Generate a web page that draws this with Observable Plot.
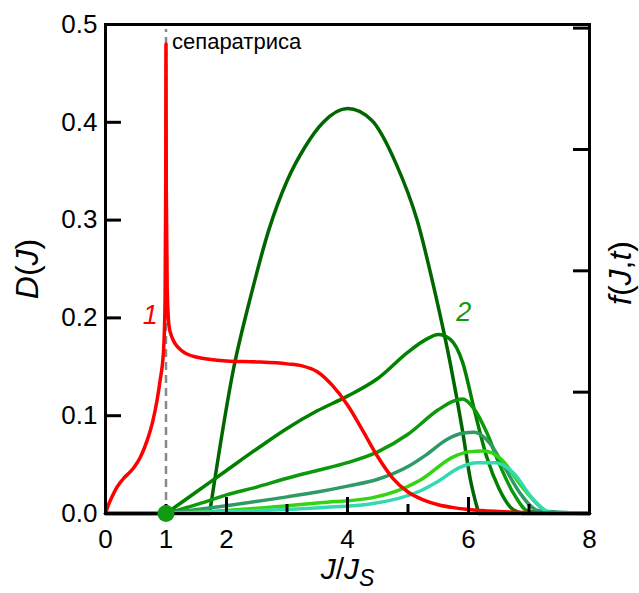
<!DOCTYPE html>
<html><head><meta charset="utf-8">
<script src="https://cdn.jsdelivr.net/npm/d3@7"></script>
<script src="https://cdn.jsdelivr.net/npm/@observablehq/plot@0.6"></script>
<style>body{margin:0;background:#fff} svg{display:block}</style>
</head><body><div id="chart"></div>
<script>
// ---- data ----
const redX = [0,0.05,0.1,0.19,0.3,0.4,0.47,0.58,0.69,0.78,0.85,0.9,0.96,0.985,0.995,1.0,1.005,1.02,1.05,1.1,1.25,1.5,2,2.5,3,3.25,3.5,3.75,4,4.25,4.5,4.75,5,5.25,5.5,5.75,6,6.5,7,8];
const redY = [0,0.009,0.016,0.027,0.036,0.042,0.047,0.058,0.075,0.094,0.115,0.135,0.167,0.22,0.33,0.48,0.33,0.23,0.192,0.18,0.167,0.16,0.156,0.155,0.153,0.151,0.145,0.131,0.111,0.085,0.058,0.036,0.022,0.014,0.009,0.006,0.004,0.002,0.001,0];

const g0X = [0,1.72,2.12,2.4,2.7,3.0,3.3,3.6,4.0,4.4,4.8,5.15,5.45,5.7,5.9,6.03,6.17,8];
const g0Y = [0,0,0.149,0.222,0.29,0.34,0.375,0.4,0.414,0.402,0.358,0.3,0.225,0.153,0.085,0.035,0,0];

const gAX = [0,1,1.5,2,2.5,3,3.5,4,4.5,5,5.3,5.5,5.7,5.9,6.1,6.3,6.5,6.7,6.9,8];
const gAY = [0,0,0.022,0.044,0.066,0.087,0.105,0.12,0.138,0.165,0.178,0.183,0.178,0.155,0.105,0.058,0.026,0.006,0,0];

const gBX = [0,1,1.5,2,2.5,3,3.5,4,4.5,5,5.5,5.75,5.9,6.08,6.3,6.5,6.75,7,8];
const gBY = [0,0,0.009,0.019,0.027,0.036,0.044,0.052,0.063,0.081,0.106,0.115,0.117,0.108,0.083,0.052,0.02,0.002,0];

const gCX = [0,1,2,3,3.5,4,4.5,5,5.3,5.65,5.9,6.1,6.35,6.6,6.85,7.15,8];
const gCY = [0,0,0.008,0.017,0.022,0.028,0.035,0.048,0.06,0.076,0.082,0.083,0.072,0.047,0.021,0.003,0];

const gDX = [0,1,2,3,3.55,4.4,5.2,5.75,6.0,6.25,6.55,6.85,7.2,7.35,8];
const gDY = [0,0,0.003,0.008,0.011,0.016,0.034,0.058,0.063,0.064,0.055,0.03,0.006,0,0];

const gEX = [0,1,2,3,3.55,4.4,5.2,5.5,5.85,6.15,6.45,6.75,7.05,7.35,8];
const gEY = [0,0,0.002,0.004,0.006,0.01,0.023,0.033,0.047,0.052,0.052,0.041,0.016,0.001,0];

const xLabelTicks = [0,1,2,4,6,8];
const xMajorTicks = [0,2,4,6,8];
const xMinorTicks = [1,3,5,7];
const yTicks = [0,0.1,0.2,0.3,0.4,0.5];
const fTicks = [1,2,3,4];      // unlabeled right axis f(J,t)
const fTop = 4.03;             // f value at the top of the frame
const separatrixX = [1];
const separatrixTop = 0.495;
const startPoint = [{x: 1, y: 0}];
const curveLabels = [
  {text: "1", x: 0.74, y: 0.203, color: "#ff0000"},
  {text: "2", x: 5.92, y: 0.206, color: "#119911"}
];
const noteLabel = [{text: "сепаратриса", x: 1, y: 0.482}];
const titles = {y: "D(J)", f: "f(J,t)", x: "J/JS"};

const greens = [
  {name: "g0", xs: g0X, ys: g0Y, color: "#006600"},
  {name: "gA", xs: gAX, ys: gAY, color: "#008200"},
  {name: "gB", xs: gBX, ys: gBY, color: "#0c9a0c"},
  {name: "gC", xs: gCX, ys: gCY, color: "#2e9a66"},
  {name: "gD", xs: gDX, ys: gDY, color: "#33d414"},
  {name: "gE", xs: gEX, ys: gEY, color: "#33d9b0"}
];
const red = {name: "red", xs: redX, ys: redY, color: "#ff0000"};
const rows = s => s.xs.map((x, i) => ({x, y: s.ys[i]}));
// split a curve into flat zero parts and the hump between them
function split(s) {
  const r = rows(s);
  let a = r.findIndex(d => d.y > 0) - 1;
  let b = r.length - 1 - [...r].reverse().findIndex(d => d.y > 0) + 1;
  a = Math.max(a, 0); b = Math.min(b, r.length - 1);
  return {flatL: r.slice(0, a + 1), hump: r.slice(a, b + 1), flatR: r.slice(b)};
}

// ---- layout ----
const W = 639, H = 593, mL = 105, mR = 50, mT = 24, mB = 80;
const plotW = W - mL - mR, plotH = H - mT - mB;
const font = "'Liberation Sans', Arial, sans-serif";

const lineStyle = c => ({x: "x", y: "y", stroke: c, strokeWidth: 3.5});
const marks = [
  Plot.ruleX(separatrixX, {x: d => d, y1: 0, y2: separatrixTop, stroke: "#888", strokeWidth: 2.5, strokeDasharray: "8,5"}),
  ...greens.flatMap(s => {
    const p = split(s);
    return [
      Plot.line(p.flatL, lineStyle(s.color)),
      Plot.line(p.flatR, lineStyle(s.color)),
      Plot.line(p.hump, {...lineStyle(s.color), curve: "monotone-x"})
    ];
  }),
  Plot.line(rows(red), {...lineStyle(red.color), curve: "monotone-x"}),
  Plot.frame({stroke: "black", strokeWidth: 3}),
  Plot.tickY(yTicks, {y: d => d, stroke: "black", strokeWidth: 3, insetRight: plotW - 16}),
  Plot.tickY(fTicks, {y: f => f * 0.5 / fTop, stroke: "black", strokeWidth: 3, insetLeft: plotW - 16}),
  Plot.tickX(xMajorTicks, {x: d => d, stroke: "black", strokeWidth: 3, insetTop: plotH - 16}),
  Plot.tickX(xMinorTicks, {x: d => d, stroke: "black", strokeWidth: 3, insetTop: plotH - 9}),
  Plot.axisY({ticks: yTicks, tickSize: 0, tickPadding: 8, tickFormat: d3.format(".1f"), fontSize: 26, label: null, fill: "black"}),
  Plot.axisX({ticks: xLabelTicks, tickSize: 0, tickPadding: 16, tickFormat: d => String(d), fontSize: 26, label: null, fill: "black"}),
  Plot.dot(startPoint, {x: "x", y: "y", r: 8.5, fill: "#129a12", stroke: "none"}),
  Plot.text(noteLabel, {x: "x", y: "y", text: "text", dx: 6, textAnchor: "start", lineAnchor: "middle", fontSize: 22, fill: "black"}),
  Plot.text(curveLabels, {x: "x", y: "y", text: "text", fill: d => d.color, fontSize: 27, fontStyle: "italic", lineAnchor: "middle"}),
  Plot.text([titles.y], {frameAnchor: "left", dx: -78, rotate: -90, fontSize: 32, textAnchor: "middle", lineAnchor: "middle", fill: "black"}),
  Plot.text([titles.f], {frameAnchor: "right", dx: 31, dy: 4, rotate: -90, fontSize: 32, textAnchor: "middle", lineAnchor: "middle", fill: "black"}),
  Plot.text([titles.x], {frameAnchor: "bottom", dy: 56, fontSize: 30, textAnchor: "middle", lineAnchor: "middle", fill: "black"})
];

const chart = Plot.plot({
  width: W, height: H,
  marginLeft: mL, marginRight: mR, marginTop: mT, marginBottom: mB,
  x: {domain: [0, 8]},
  y: {domain: [0, 0.5]},
  style: {fontFamily: font, background: "white", color: "black"},
  marks
});

// mixed italic / upright parts of the axis titles
function rich(content, size, parts) {
  d3.select(chart).selectAll("text").filter(function() { return this.textContent === content; }).each(function() {
    const t = d3.select(this);
    t.attr("font-size", size).style("font-size", size + "px").attr("text-anchor", "middle");
    t.text(null);
    for (const p of parts) {
      const s = t.append("tspan").text(p.t);
      if (p.i) s.attr("font-style", "italic");
      if (p.sub) s.attr("font-size", Math.round(size * 0.75)).attr("dy", "0.3em");
    }
  });
}
rich(titles.y, 32, [{t: "D", i: 1}, {t: "("}, {t: "J", i: 1}, {t: ")"}]);
rich(titles.f, 32, [{t: "f", i: 1}, {t: "("}, {t: "J", i: 1}, {t: ","}, {t: "t", i: 1}, {t: ")"}]);
rich(titles.x, 30, [{t: "J", i: 1}, {t: "/"}, {t: "J", i: 1}, {t: "S", i: 1, sub: 1}]);

document.getElementById("chart").append(chart);
</script></body></html>
